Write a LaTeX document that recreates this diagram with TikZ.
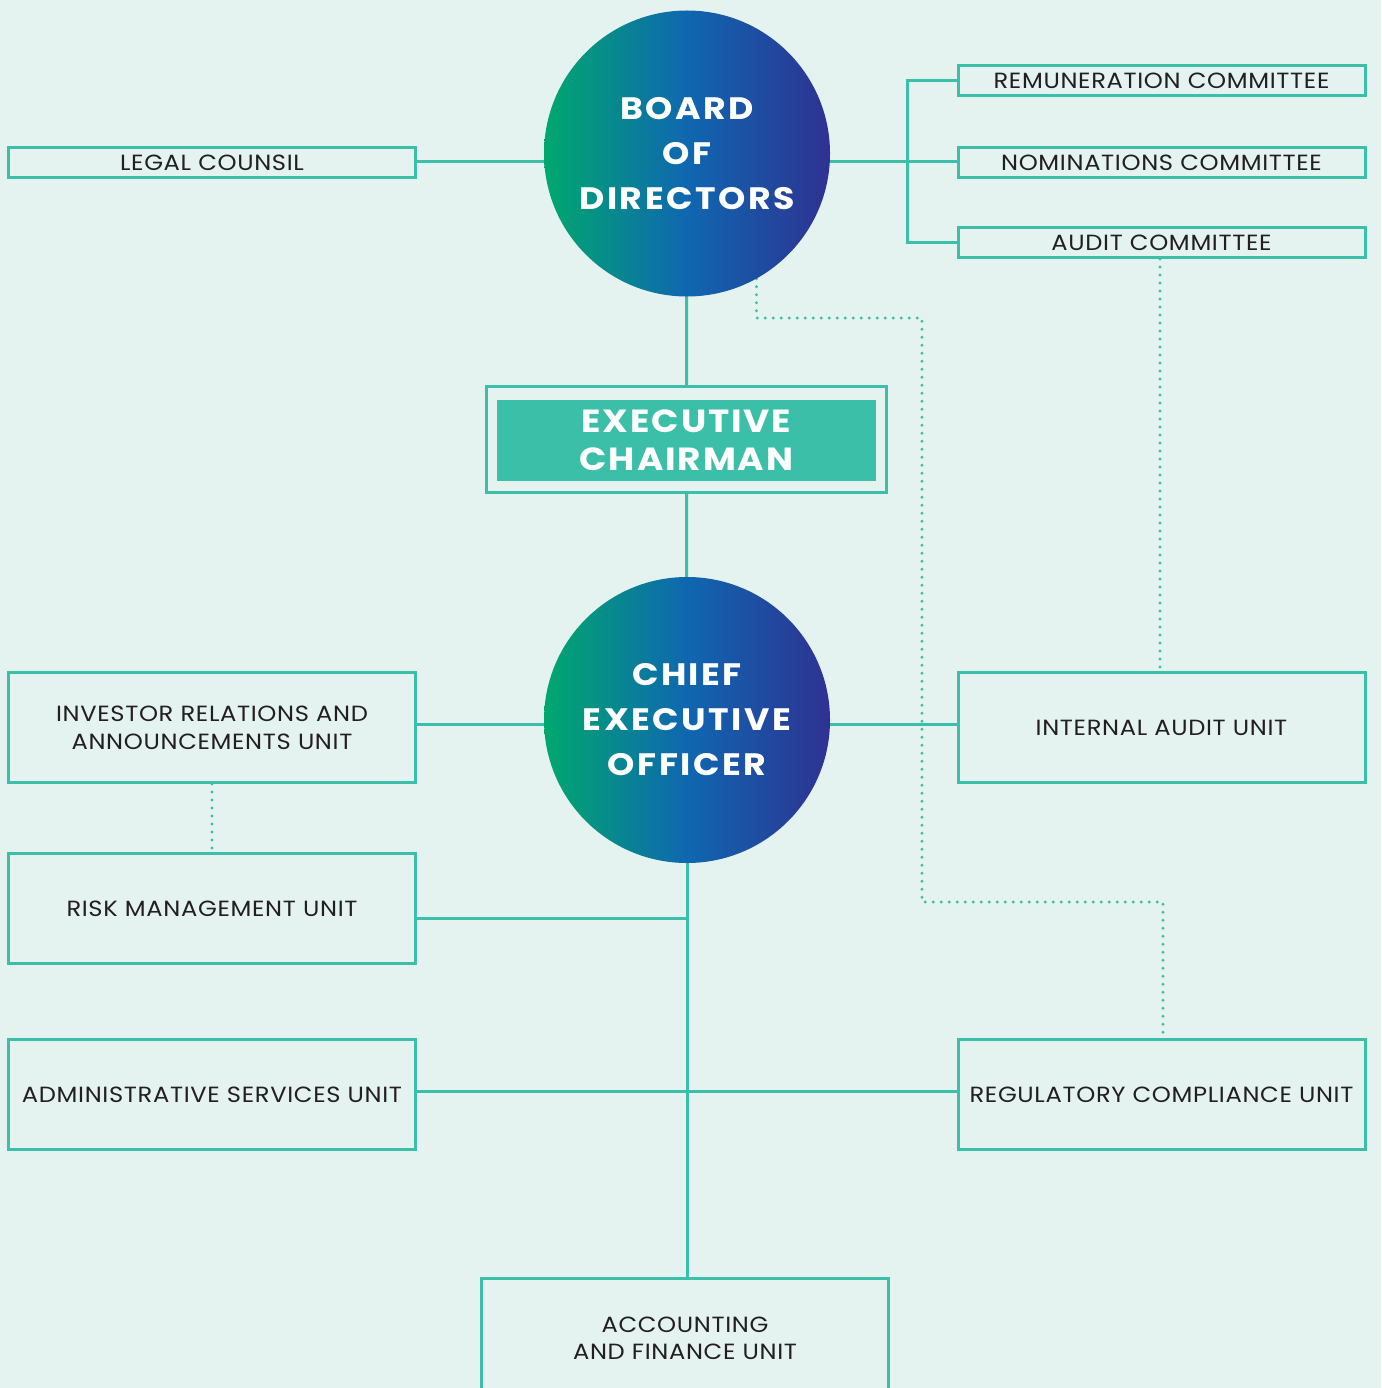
\documentclass[tikz,border=0pt]{standalone}
\usepackage{fontspec}
\setmainfont{Poppins}
\newfontfamily\boxfont[FakeStretch=1.1,LetterSpace=3]{Poppins}
\newfontfamily\circfont[FakeStretch=1.12,LetterSpace=8]{Poppins}
\newfontfamily\ecfont[FakeStretch=1.12,LetterSpace=6]{Poppins}
\usetikzlibrary{calc,backgrounds}
\definecolor{bgc}{RGB}{228,243,240}
\definecolor{tealc}{RGB}{59,191,168}
\definecolor{txtc}{RGB}{35,31,32}
\definecolor{gA}{RGB}{0,168,110}
\definecolor{gB}{RGB}{15,103,176}
\definecolor{gC}{RGB}{46,50,146}
\tikzset{
  unitbox/.style={draw=tealc, line width=3pt, inner sep=0pt, align=center, text=txtc,
     font=\boxfont\fontsize{22}{28}\selectfont, minimum width=407pt},
  slimbox/.style={unitbox, minimum height=30pt},
  tallbox/.style={unitbox, minimum height=110pt},
  bigcircle/.style={circle, minimum size=286pt, inner sep=0pt, left color=gA, right color=gC, middle color=gB,
     text=white, align=center, font=\circfont\bfseries\fontsize{31}{45}\selectfont},
  link/.style={draw=tealc, line width=3pt},
  dotlink/.style={draw=tealc, line width=3.2pt, line cap=round, dash pattern=on 0pt off 8pt},
}
\begin{document}
\begin{tikzpicture}[x=1pt,y=-1pt]
\useasboundingbox (0,0) rectangle (1381,1388);

\node[bigcircle] (bod) at (687,153.5) {BOARD\\OF\\DIRECTORS};
\node[bigcircle] (ceo) at (687,720) {CHIEF\\EXECUTIVE\\OFFICER};

\node[slimbox] (lc) at (212,162.5) {LEGAL COUNSIL};
\node[slimbox] (rem) at (1161.5,80.5) {REMUNERATION COMMITTEE};
\node[slimbox] (nom) at (1161.5,162.5) {NOMINATIONS COMMITTEE};
\node[slimbox] (aud) at (1161.5,242.5) {AUDIT COMMITTEE};

\node[draw=tealc, line width=3pt, minimum width=400pt, minimum height=106pt, inner sep=0pt] (ecf) at (686.5,439.5) {};
\node[fill=tealc, minimum width=379pt, minimum height=81pt, inner sep=0pt, text=white, align=center,
      font=\ecfont\bfseries\fontsize{32}{38}\selectfont] (ec) at (686.5,440.5) {EXECUTIVE\\CHAIRMAN};

\node[tallbox] (inv) at (212,727.5) {INVESTOR RELATIONS AND\\ANNOUNCEMENTS UNIT};
\node[tallbox] (iau) at (1161.5,727.5) {INTERNAL AUDIT UNIT};
\node[tallbox] (risk) at (212,908.5) {RISK MANAGEMENT UNIT};
\node[tallbox] (adm) at (212,1094.5) {ADMINISTRATIVE SERVICES UNIT};
\node[tallbox] (reg) at (1161.5,1094.5) {REGULATORY COMPLIANCE UNIT};
\node[unitbox, minimum height=120pt, font=\boxfont\fontsize{22}{27}\selectfont] (acc) at (685,1338) {ACCOUNTING\\AND FINANCE UNIT};

\coordinate (jn) at (907,162);
\coordinate (d1) at (756,318);
\coordinate (d2) at (922,318);
\coordinate (d3) at (922,902);
\coordinate (d4) at (1163,902);

\begin{scope}[on background layer]
\fill[bgc] (0,0) rectangle (1381,1388);
\draw[link] (lc.east |- jn) -- (bod.center |- jn);
\draw[link] (bod.center |- jn) -- (jn);
\draw[link] (jn) -- (nom.west |- jn);
\draw[link] (rem.west) -| (jn) |- (aud.west);
\draw[link] (bod.center) -- (ecf.north);
\draw[link] (ecf.south) -- (ceo.center);
\draw[link] (inv.east |- 0,724) -- (iau.west |- 0,724);
\draw[link] ([yshift=-9.5pt]risk.east) -- (ceo.center |- 0,918);
\draw[link] (ceo.center) -- (ceo.center |- acc.north);
\draw[link] (adm.east |- 0,1091) -- (reg.west |- 0,1091);
\draw[dotlink] (bod.-61) -- (bod.-61 |- d1) -- (d2) -- (d3) -- (d4) -- (d4 |- reg.north);
\draw[dotlink] (aud.south -| 1160,0) -- (iau.north -| 1160,0);
\draw[dotlink] (inv.south) -- (risk.north);
\end{scope}
\end{tikzpicture}
\end{document}
